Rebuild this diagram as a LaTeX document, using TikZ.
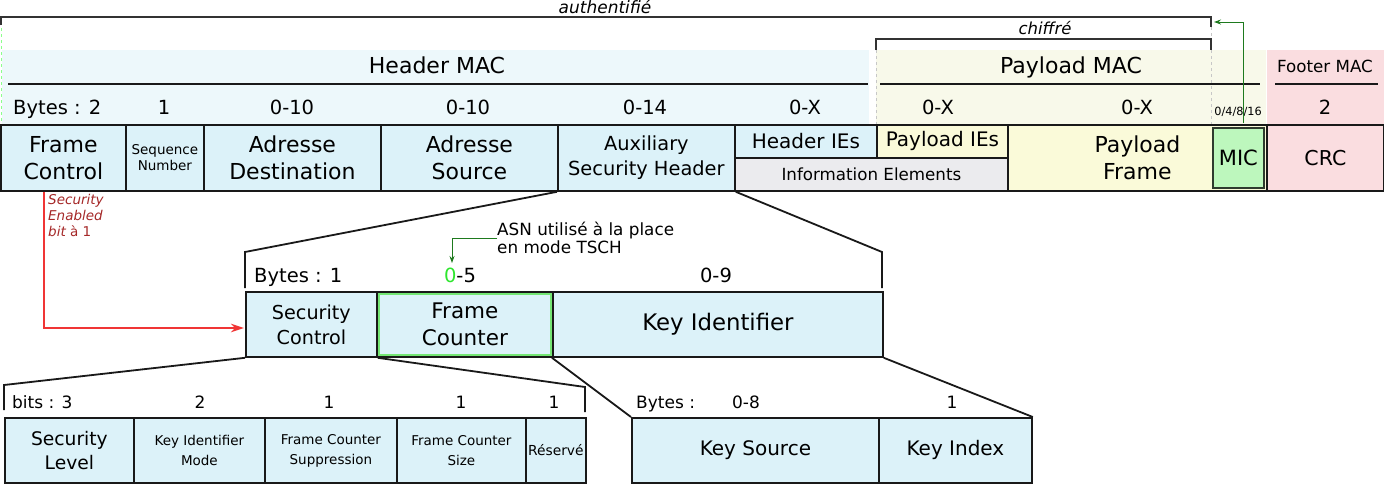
\documentclass[tikz,border=0pt]{standalone}
\usepackage{fontspec}
\setmainfont{DejaVu Sans}
\usetikzlibrary{arrows.meta,calc}
\definecolor{boxcyan}{HTML}{DCF2F9}
\definecolor{bandcyan}{HTML}{EDF8FB}
\definecolor{bandyellow}{HTML}{F8F9EA}
\definecolor{boxyellow}{HTML}{FAFAD9}
\definecolor{bandpink}{HTML}{FADDE0}
\definecolor{boxgray}{HTML}{EBEBEE}
\definecolor{micgreen}{HTML}{BDF7BD}
\definecolor{micborder}{HTML}{2E3A2E}
\definecolor{darkgreen}{HTML}{1E7A1E}
\definecolor{brightgreen}{HTML}{2EE62E}
\definecolor{fcgreen}{HTML}{74E674}
\definecolor{arrowred}{HTML}{F03535}
\definecolor{textred}{HTML}{A52828}
\newcommand{\fsz}[2]{\fontsize{#1pt}{#2pt}\selectfont}
\begin{document}
\begin{tikzpicture}[x=1pt,y=-1pt,
  box/.style={draw=black!90, line width=1.8pt, fill=boxcyan, anchor=north west, inner sep=0pt, align=center, font=\fsz{22}{27}},
  lbl/.style={inner sep=0pt, anchor=base, font=\fsz{19.5}{22}},
  title/.style={inner sep=0pt, anchor=base, font=\fsz{22}{24}},
  zoomline/.style={draw=black!90, line width=1.8pt},
  sepline/.style={draw=black!90, line width=2.2pt},
  bracket/.style={draw=black!80, line width=1.1pt},
  faint/.style={draw=black!22, dashed, line width=0.6pt},
]
\useasboundingbox[fill=white] (0,0) rectangle (1384,483);
% bands
\fill[bandcyan] (2,50) rectangle (869,124);
\fill[bandyellow] (876,50) rectangle (1266,124);
\fill[bandpink] (1267,50) rectangle (1384,124);
% brackets
\node[inner sep=0pt, anchor=base, font=\fsz{17}{18}\itshape] (auth) at (605,13) {authentifié};
\node[inner sep=0pt, anchor=base, font=\fsz{16.5}{18}\itshape] (chif) at (1045,34) {chiffré};
\draw[bracket] (1,25) -- (1,17) -- (1211,17) -- (1211,27);
\draw[bracket] (876,50) -- (876,39) -- (1211,39) -- (1211,50);
\draw[draw=green!45, dashed, line width=0.6pt] (1,28) -- (1,122);
\draw[faint] (1211,27) -- (1211,39);
\draw[faint] (876,50) -- (876,124);
\draw[faint] (1211,50) -- (1211,124);
% titles
\node[title] (hmac) at (437,73) {Header MAC};
\node[title] (pmac) at (1071,73) {Payload MAC};
\node[inner sep=0pt, anchor=base, font=\fsz{16.7}{18}] (fmac) at (1325,72) {Footer MAC};
\draw[sepline] (8,84) -- (868,84);
\draw[sepline] (880,84) -- (1260,84);
\draw[sepline] (1275,84) -- (1378,84);
% byte labels
\node[lbl, anchor=base west] (l1) at (13,114) {Bytes : 2};
\node[lbl] (l2) at (164,114) {1};
\node[lbl] (l3) at (292,114) {0-10};
\node[lbl] (l4) at (468,114) {0-10};
\node[lbl] (l5) at (645,114) {0-14};
\node[lbl] (l6) at (805,114) {0-X};
\node[lbl] (l7) at (938,114) {0-X};
\node[lbl] (l8) at (1137,114) {0-X};
\node[inner sep=0pt, anchor=base, font=\fsz{11.3}{12}] (l9) at (1238,115) {0/4/8/16};
\node[lbl] (l10) at (1325,114) {2};
% top row
\node[box, minimum width=125pt, minimum height=66pt] (fc) at (0,124) {Frame\\Control};
\node[box, minimum width=78pt, minimum height=66pt, font=\fsz{13.5}{16}] (sn) at (125,124) {Sequence\\Number};
\node[box, minimum width=177pt, minimum height=66pt] (ad) at (203,124) {Adresse\\Destination};
\node[box, minimum width=177pt, minimum height=66pt] (as) at (380,124) {Adresse\\Source};
\node[box, minimum width=177pt, minimum height=66pt, font=\fsz{19.4}{25}] (aux) at (557,124) {Auxiliary\\Security Header};
\node[box, minimum width=142pt, minimum height=33pt, font=\fsz{20}{22}] (hie) at (734,124) {Header IEs};
\node[box, minimum width=131pt, minimum height=33pt, font=\fsz{20}{22}, fill=boxyellow] (pie) at (876,124) {Payload IEs};
\node[box, minimum width=273pt, minimum height=33pt, font=\fsz{16.7}{19}, fill=boxgray] (ie) at (734,157) {Information Elements};
\node[box, minimum width=259pt, minimum height=66pt, fill=boxyellow] (pf) at (1007,124) {Payload\\Frame};
\node[box, minimum width=51pt, minimum height=60pt, font=\fsz{21}{22}, fill=micgreen, draw=micborder] (mic) at (1212,127) {MIC};
\node[box, minimum width=117pt, minimum height=66pt, font=\fsz{20.5}{24}, fill=bandpink] (crc) at (1266,124) {CRC};
\coordinate (authR) at (1214,22);
\draw[darkgreen, line width=1pt, -{Stealth[length=7pt,width=5pt]}] ($(mic.north)+(5.5,-4)$) |- (authR);
% middle row
\node[box, minimum width=131pt, minimum height=65pt, font=\fsz{19.2}{25}] (sc) at (245,291) {Security\\Control};
\node[box, minimum width=176pt, minimum height=65pt, font=\fsz{21.5}{27}] (fcn) at (376,291) {Frame\\Counter};
\draw[fcgreen, line width=2pt] ($(fcn.north west)+(2.8,2.8)$) rectangle ($(fcn.south east)+(-2.8,-2.8)$);
\node[box, minimum width=330pt, minimum height=65pt, font=\fsz{22.8}{27}] (ki) at (552,291) {Key Identifier};
\node[lbl, anchor=base west] (m1) at (254,282) {Bytes : 1};
\node[lbl] (m2) at (460,282) {\textcolor{brightgreen}{0}-5};
\node[lbl] (m3) at (716,282) {0-9};
\node[inner sep=0pt, anchor=west, align=left, font=\fsz{16.8}{15.5}] (asn) at (497,238) {ASN utilisé à la place\\en mode TSCH};
\coordinate (asnend) at (452,263);
\draw[darkgreen, line width=1pt, -{Stealth[length=7pt,width=5pt]}] (asn.west) -| (asnend);
% red arrow
\coordinate (redend) at (244,328);
\draw[arrowred, line width=1.6pt, -{Stealth[length=13pt,width=8.5pt]}] ($(fc.south west)+(44,0)$) |- (redend);
\node[inner sep=0pt, anchor=north west, align=left, text=textred, font=\fsz{13.5}{16}] (sen) at (48,194) {{\itshape Security}\\{\itshape Enabled}\\{\itshape bit} à 1};
% trapezoid 1
\coordinate (t1) at (245,252); \coordinate (t1b) at (245,288);
\coordinate (t2) at (882,252); \coordinate (t2b) at (882,288);
\draw[zoomline] (aux.south west) -- (t1) -- (t1b);
\draw[zoomline] (aux.south east) -- (t2) -- (t2b);
% bottom left row
\node[box, minimum width=129pt, minimum height=65pt, font=\fsz{18.7}{24}] (sl) at (4,417) {Security\\Level};
\node[box, minimum width=131pt, minimum height=65pt, font=\fsz{13.5}{20}] (kim) at (133,417) {Key Identifier\\Mode};
\node[box, minimum width=132pt, minimum height=65pt, font=\fsz{13.5}{20}] (fcs) at (264,417) {Frame Counter\\Suppression};
\node[box, minimum width=129pt, minimum height=65pt, font=\fsz{13.5}{20}] (fcz) at (396,417) {Frame Counter\\Size};
\node[box, minimum width=60pt, minimum height=65pt, font=\fsz{13.8}{15}] (res) at (525,417) {Réservé};
\node[lbl, anchor=base west, font=\fsz{17}{20}] (b1l) at (12,408) {bits : 3};
\node[lbl, font=\fsz{17}{20}] (b2l) at (200,408) {2};
\node[lbl, font=\fsz{17}{20}] (b3l) at (329,408) {1};
\node[lbl, font=\fsz{17}{20}] (b4l) at (461,408) {1};
\node[lbl, font=\fsz{17}{20}] (b5l) at (554,408) {1};
\coordinate (b1) at (4,385); \coordinate (b1b) at (4,410);
\coordinate (b2) at (585,387); \coordinate (b2b) at (585,412);
\draw[zoomline] (sc.south west) -- (b1) -- (b1b);
\draw[zoomline] (sc.south east) -- (b2) -- (b2b);
% bottom right row
\node[box, minimum width=247pt, minimum height=65pt, font=\fsz{20}{24}] (ks) at (631,417) {Key Source};
\node[box, minimum width=153pt, minimum height=65pt, font=\fsz{20}{24}] (kix) at (878,417) {Key Index};
\node[lbl, anchor=base west, font=\fsz{17}{20}] (k1) at (636,408) {Bytes :};
\node[lbl, font=\fsz{17}{20}] (k2) at (746,408) {0-8};
\node[lbl, font=\fsz{17}{20}] (k3) at (952,408) {1};
\draw[zoomline] (ki.south west) -- (ks.north west);
\draw[zoomline] (ki.south east) -- (kix.north east);
\end{tikzpicture}
\end{document}
